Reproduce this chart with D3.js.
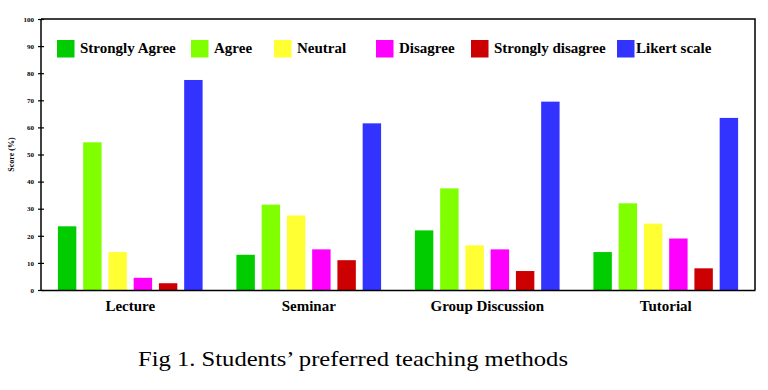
<!DOCTYPE html>
<html><head><meta charset="utf-8">
<script src="https://cdn.jsdelivr.net/npm/d3@7"></script>
<style>body{margin:0;background:#fff}svg{display:block}text{font-family:"Liberation Serif","Times New Roman",Times,"DejaVu Serif",serif}</style>
</head><body>
<svg id="c" width="768" height="390"></svg>
<script>
const categories = ["Lecture", "Seminar", "Group Discussion", "Tutorial"];
const seriesNames = ["Strongly Agree", "Agree", "Neutral", "Disagree", "Strongly disagree", "Likert scale"];
const stronglyAgree = [23.5, 13, 22, 14];
const agree = [54.5, 31.5, 37.5, 32];
const neutral = [14, 27.5, 16.5, 24.5];
const disagree = [4.5, 15, 15, 19];
const stronglyDisagree = [2.5, 11, 7, 8];
const likert = [77.5, 61.5, 69.5, 63.5];
const yTicks = [0, 10, 20, 30, 40, 50, 60, 70, 80, 90, 100];
const colors = ["#00cc00", "#80ff00", "#ffff33", "#ff00ff", "#cc0000", "#3333ff"];
const seriesValues = [stronglyAgree, agree, neutral, disagree, stronglyDisagree, likert];

const svg = d3.select("#c");
const L = 41, R = 755, T = 19, B = 290;
const y = d3.scaleLinear().domain([0, 100]).range([B, T]);
const x0 = d3.scaleBand().domain(categories).range([L, R]).padding(0);
const x1 = d3.scaleBand().domain(seriesNames).range([13.5, x0.bandwidth() - 13.5]).paddingInner(0.27).paddingOuter(0.135);

const g = svg.append("g");
categories.forEach((c, ci) => {
  seriesNames.forEach((s, si) => {
    g.append("rect")
      .attr("x", x0(c) + x1(s))
      .attr("y", y(seriesValues[si][ci]))
      .attr("width", x1.bandwidth())
      .attr("height", y(0) - y(seriesValues[si][ci]))
      .attr("fill", colors[si]);
  });
});

svg.append("path").attr("d", `M${L},${T}H${R}V${B}`).attr("fill", "none").attr("stroke", "#000").attr("stroke-width", 1.5);

const ya = svg.append("g").attr("transform", `translate(${L},0)`)
  .call(d3.axisLeft(y).tickValues(yTicks).tickSize(3).tickPadding(4));
ya.attr("font-family", null);
ya.selectAll(".tick line").attr("x2", 3).attr("x1", -3).attr("stroke-width", 1.2);
ya.select(".domain").attr("stroke-width", 1.5).attr("d", `M0,${B}V${T}`);
ya.selectAll("text").attr("font-size", 7).attr("font-weight", "bold").attr("fill", "#000");

const xa = svg.append("g").attr("transform", `translate(0,${B})`)
  .call(d3.axisBottom(x0).tickSize(0).tickPadding(10));
xa.attr("font-family", null);
xa.select(".domain").attr("stroke-width", 1.5);
xa.selectAll("text").attr("font-size", 15).attr("font-weight", "bold").attr("fill", "#000");

svg.append("text").attr("transform", `translate(14,${(T + B) / 2}) rotate(-90)`)
  .attr("text-anchor", "middle").attr("font-size", 8).attr("font-weight", "bold")
  .text("Score (%)");

const legX = [57, 191, 274, 376, 471, 617];
const lg = svg.append("g");
seriesNames.forEach((s, i) => {
  lg.append("rect").attr("x", legX[i]).attr("y", 40).attr("width", 17.5).attr("height", 17.5).attr("fill", colors[i]);
  lg.append("text").attr("x", legX[i] + (i === 5 ? 19 : 23)).attr("y", 53)
    .attr("font-size", 15).attr("font-weight", "bold")
    .text(s);
});

svg.append("text").attr("x", 138).attr("y", 366)
  .attr("font-size", 21)
  .attr("textLength", 430).attr("lengthAdjust", "spacingAndGlyphs")
  .text("Fig 1. Students\u2019 preferred teaching methods");
</script>
</body></html>
